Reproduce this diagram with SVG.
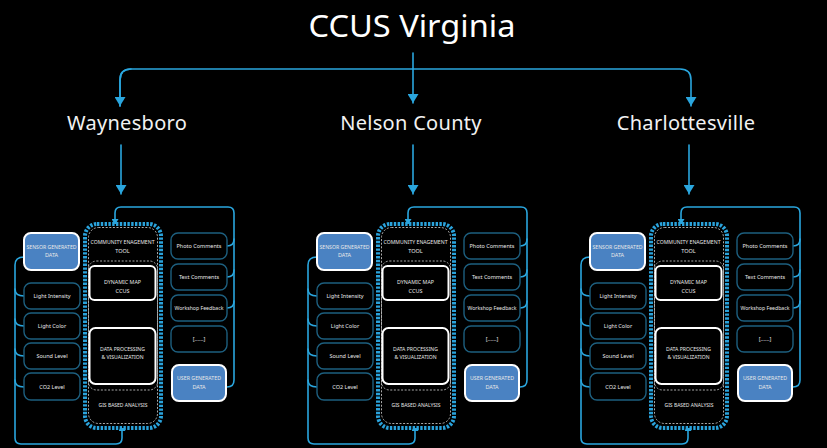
<svg xmlns="http://www.w3.org/2000/svg" width="827" height="448" viewBox="0 0 827 448">
  <defs>
    <style>
      .title { font-family: "Noto Sans", "Open Sans", sans-serif; fill: #ffffff; }
      .city { font-family: "Noto Sans", "Open Sans", sans-serif; font-size: 20px; fill: #f2f2f2; text-anchor: middle; letter-spacing: 0.3px; }
      .t { font-family: "Noto Sans", "Open Sans", sans-serif; font-size: 5.5px; fill: #e8e8e8; text-anchor: middle; }
      .link { fill: none; stroke: #2aa6de; stroke-width: 1.6; stroke-linecap: round; stroke-linejoin: round; }
      .item { fill: #000; stroke: #1d5f7f; stroke-width: 1.4; }
      .data { fill: #4a82c2; stroke: #ffffff; stroke-width: 2; }
      .tool { fill: #000; stroke: #2aa3dc; stroke-width: 4; stroke-dasharray: 2.4 1.4; }
      .dash { fill: none; stroke: #bdbdbd; stroke-width: 0.9; stroke-dasharray: 2 1.6; }
      .module { fill: #000; stroke: #ffffff; stroke-width: 2; }
      .flow { fill: none; stroke: #ffffff; stroke-width: 0.8; }
    </style>
    <marker id="headBig" viewBox="0 0 10 10" refX="10" refY="5" markerWidth="9" markerHeight="11" markerUnits="userSpaceOnUse" orient="auto" preserveAspectRatio="none">
      <path d="M0,0 L10,5 L0,10 z" fill="#2aa6de"/>
    </marker>
    <marker id="headSmall" viewBox="0 0 10 10" refX="10" refY="5" markerWidth="6" markerHeight="7" markerUnits="userSpaceOnUse" orient="auto" preserveAspectRatio="none">
      <path d="M0,0 L10,5 L0,10 z" fill="#2aa6de"/>
    </marker>
    <marker id="headWhite" viewBox="0 0 10 10" refX="10" refY="5" markerWidth="3" markerHeight="3.5" markerUnits="userSpaceOnUse" orient="auto" preserveAspectRatio="none">
      <path d="M0,0 L10,5 L0,10 z" fill="#ffffff"/>
    </marker>
  </defs>

  <rect width="827" height="448" fill="#000"/>

  <!-- top level -->
  <g id="node-ccus">
    <text class="title" x="412" y="37" font-size="31" text-anchor="middle" textLength="207" lengthAdjust="spacingAndGlyphs">CCUS Virginia</text>
  </g>
  <g id="node-waynesboro"><text class="city" x="127" y="130">Waynesboro</text></g>
  <g id="node-nelson"><text class="city" x="411" y="130">Nelson County</text></g>
  <g id="node-charlottesville"><text class="city" x="686" y="130">Charlottesville</text></g>

  <g id="connectors-top">
    <path class="link" d="M413,53 V103" marker-end="url(#headBig)"/>
    <path class="link" d="M120,106 V80 Q120,69 131,69 H680 Q691,69 691,80 V106" marker-end="url(#headBig)"/>
    <path class="link" d="M131,69 Q120,69 120,80 V106" marker-end="url(#headBig)"/>
    <path class="link" d="M121,145 V194" marker-end="url(#headBig)"/>
    <path class="link" d="M413,145 V194" marker-end="url(#headBig)"/>
    <path class="link" d="M689,145 V194" marker-end="url(#headBig)"/>
  </g>

  <!-- panel: Waynesboro -->
  <g id="panel-waynesboro">
    <g id="w-connectors">
      <path class="link" d="M227,387 Q234,387 234,380 V213 Q234,207 228,207 H121 Q115,207 115,213 V225" marker-end="url(#headSmall)"/>
      <path class="link" d="M227,246 Q234,246 234,239"/>
      <path class="link" d="M227,277 Q234,277 234,270"/>
      <path class="link" d="M227,308 Q234,308 234,301"/>
      <path class="link" d="M24,257 Q15,257 15,265 V438 Q15,444 21,444 H116 Q122,444 122,438 V425" marker-end="url(#headSmall)"/>
      <path class="link" d="M15,289 Q15,296 24,296"/>
      <path class="link" d="M15,319 Q15,326 24,326"/>
      <path class="link" d="M15,349 Q15,356 24,356"/>
      <path class="link" d="M15,380 Q15,387 24,387"/>
      <path class="flow" d="M119,327 V301" marker-end="url(#headWhite)"/>
      <path class="flow" d="M125,301 V327" marker-end="url(#headWhite)"/>
    </g>
    <g id="w-tool">
      <rect class="tool" x="85" y="224" width="76" height="204" rx="12"/>
      <rect class="dash" x="88.5" y="227.5" width="69" height="196" rx="10"/>
      <rect class="dash" x="88.5" y="261" width="69" height="129" rx="8"/>
      <text class="t" x="122.5" y="244" textLength="64" lengthAdjust="spacingAndGlyphs">COMMUNITY ENAGEMENT</text>
      <text class="t" x="122.5" y="253">TOOL</text>
      <text class="t" x="123" y="407" textLength="49" lengthAdjust="spacingAndGlyphs">GIS BASED ANALYSIS</text>
    </g>
    <g id="w-map">
      <rect class="module" x="89.5" y="266" width="66" height="34" rx="5"/>
      <text class="t" x="122.5" y="284" textLength="37" lengthAdjust="spacingAndGlyphs">DYNAMIC MAP</text>
      <text class="t" x="122.5" y="293">CCUS</text>
    </g>
    <g id="w-processing">
      <rect class="module" x="89.5" y="328" width="66" height="56" rx="6"/>
      <text class="t" x="122.5" y="351" textLength="45" lengthAdjust="spacingAndGlyphs">DATA PROCESSING</text>
      <text class="t" x="122.5" y="359" textLength="42" lengthAdjust="spacingAndGlyphs">&amp; VISUALIZATION</text>
    </g>
    <g id="w-sensor">
      <rect class="data" x="24" y="233" width="55" height="37" rx="7"/>
      <text class="t" x="51.5" y="249" textLength="50" lengthAdjust="spacingAndGlyphs">SENSOR GENERATED</text>
      <text class="t" x="51.5" y="257">DATA</text>
    </g>
    <g id="w-light-intensity"><rect class="item" x="24" y="283" width="56" height="26" rx="7"/><text class="t" x="52" y="298">Light Intensity</text></g>
    <g id="w-light-color"><rect class="item" x="24" y="313" width="56" height="26" rx="7"/><text class="t" x="52" y="328">Light Color</text></g>
    <g id="w-sound-level"><rect class="item" x="24" y="343" width="56" height="26" rx="7"/><text class="t" x="52" y="358">Sound Level</text></g>
    <g id="w-co2-level"><rect class="item" x="24" y="373" width="56" height="27" rx="7"/><text class="t" x="52" y="388.5">CO2 Level</text></g>
    <g id="w-photo"><rect class="item" x="171" y="233" width="56" height="26" rx="7"/><text class="t" x="199" y="248">Photo Comments</text></g>
    <g id="w-text"><rect class="item" x="171" y="264" width="56" height="26" rx="7"/><text class="t" x="199" y="279">Text Comments</text></g>
    <g id="w-workshop"><rect class="item" x="171" y="295" width="56" height="26" rx="7"/><text class="t" x="199" y="310" textLength="49" lengthAdjust="spacingAndGlyphs">Workshop Feedback</text></g>
    <g id="w-more"><rect class="item" x="171" y="326" width="56" height="26" rx="7"/><text class="t" x="199" y="341">[......]</text></g>
    <g id="w-user">
      <rect class="data" x="172" y="365" width="54" height="36" rx="7"/>
      <text class="t" x="199" y="380" textLength="44" lengthAdjust="spacingAndGlyphs">USER GENERATED</text>
      <text class="t" x="199" y="389">DATA</text>
    </g>
  </g>

  <!-- panel: Nelson County -->
  <g id="panel-nelson" transform="translate(293,0)">
    <g id="n-connectors">
      <path class="link" d="M227,387 Q234,387 234,380 V213 Q234,207 228,207 H121 Q115,207 115,213 V225" marker-end="url(#headSmall)"/>
      <path class="link" d="M227,246 Q234,246 234,239"/>
      <path class="link" d="M227,277 Q234,277 234,270"/>
      <path class="link" d="M227,308 Q234,308 234,301"/>
      <path class="link" d="M24,257 Q15,257 15,265 V438 Q15,444 21,444 H116 Q122,444 122,438 V425" marker-end="url(#headSmall)"/>
      <path class="link" d="M15,289 Q15,296 24,296"/>
      <path class="link" d="M15,319 Q15,326 24,326"/>
      <path class="link" d="M15,349 Q15,356 24,356"/>
      <path class="link" d="M15,380 Q15,387 24,387"/>
      <path class="flow" d="M119,327 V301" marker-end="url(#headWhite)"/>
      <path class="flow" d="M125,301 V327" marker-end="url(#headWhite)"/>
    </g>
    <g id="n-tool">
      <rect class="tool" x="85" y="224" width="76" height="204" rx="12"/>
      <rect class="dash" x="88.5" y="227.5" width="69" height="196" rx="10"/>
      <rect class="dash" x="88.5" y="261" width="69" height="129" rx="8"/>
      <text class="t" x="122.5" y="244" textLength="64" lengthAdjust="spacingAndGlyphs">COMMUNITY ENAGEMENT</text>
      <text class="t" x="122.5" y="253">TOOL</text>
      <text class="t" x="123" y="407" textLength="49" lengthAdjust="spacingAndGlyphs">GIS BASED ANALYSIS</text>
    </g>
    <g id="n-map">
      <rect class="module" x="89.5" y="266" width="66" height="34" rx="5"/>
      <text class="t" x="122.5" y="284" textLength="37" lengthAdjust="spacingAndGlyphs">DYNAMIC MAP</text>
      <text class="t" x="122.5" y="293">CCUS</text>
    </g>
    <g id="n-processing">
      <rect class="module" x="89.5" y="328" width="66" height="56" rx="6"/>
      <text class="t" x="122.5" y="351" textLength="45" lengthAdjust="spacingAndGlyphs">DATA PROCESSING</text>
      <text class="t" x="122.5" y="359" textLength="42" lengthAdjust="spacingAndGlyphs">&amp; VISUALIZATION</text>
    </g>
    <g id="n-sensor">
      <rect class="data" x="24" y="233" width="55" height="37" rx="7"/>
      <text class="t" x="51.5" y="249" textLength="50" lengthAdjust="spacingAndGlyphs">SENSOR GENERATED</text>
      <text class="t" x="51.5" y="257">DATA</text>
    </g>
    <g id="n-light-intensity"><rect class="item" x="24" y="283" width="56" height="26" rx="7"/><text class="t" x="52" y="298">Light Intensity</text></g>
    <g id="n-light-color"><rect class="item" x="24" y="313" width="56" height="26" rx="7"/><text class="t" x="52" y="328">Light Color</text></g>
    <g id="n-sound-level"><rect class="item" x="24" y="343" width="56" height="26" rx="7"/><text class="t" x="52" y="358">Sound Level</text></g>
    <g id="n-co2-level"><rect class="item" x="24" y="373" width="56" height="27" rx="7"/><text class="t" x="52" y="388.5">CO2 Level</text></g>
    <g id="n-photo"><rect class="item" x="171" y="233" width="56" height="26" rx="7"/><text class="t" x="199" y="248">Photo Comments</text></g>
    <g id="n-text"><rect class="item" x="171" y="264" width="56" height="26" rx="7"/><text class="t" x="199" y="279">Text Comments</text></g>
    <g id="n-workshop"><rect class="item" x="171" y="295" width="56" height="26" rx="7"/><text class="t" x="199" y="310" textLength="49" lengthAdjust="spacingAndGlyphs">Workshop Feedback</text></g>
    <g id="n-more"><rect class="item" x="171" y="326" width="56" height="26" rx="7"/><text class="t" x="199" y="341">[......]</text></g>
    <g id="n-user">
      <rect class="data" x="172" y="365" width="54" height="36" rx="7"/>
      <text class="t" x="199" y="380" textLength="44" lengthAdjust="spacingAndGlyphs">USER GENERATED</text>
      <text class="t" x="199" y="389">DATA</text>
    </g>
  </g>

  <!-- panel: Charlottesville -->
  <g id="panel-charlottesville" transform="translate(566,0)">
    <g id="c-connectors">
      <path class="link" d="M227,387 Q234,387 234,380 V213 Q234,207 228,207 H121 Q115,207 115,213 V225" marker-end="url(#headSmall)"/>
      <path class="link" d="M227,246 Q234,246 234,239"/>
      <path class="link" d="M227,277 Q234,277 234,270"/>
      <path class="link" d="M227,308 Q234,308 234,301"/>
      <path class="link" d="M24,257 Q15,257 15,265 V438 Q15,444 21,444 H116 Q122,444 122,438 V425" marker-end="url(#headSmall)"/>
      <path class="link" d="M15,289 Q15,296 24,296"/>
      <path class="link" d="M15,319 Q15,326 24,326"/>
      <path class="link" d="M15,349 Q15,356 24,356"/>
      <path class="link" d="M15,380 Q15,387 24,387"/>
      <path class="flow" d="M119,327 V301" marker-end="url(#headWhite)"/>
      <path class="flow" d="M125,301 V327" marker-end="url(#headWhite)"/>
    </g>
    <g id="c-tool">
      <rect class="tool" x="85" y="224" width="76" height="204" rx="12"/>
      <rect class="dash" x="88.5" y="227.5" width="69" height="196" rx="10"/>
      <rect class="dash" x="88.5" y="261" width="69" height="129" rx="8"/>
      <text class="t" x="122.5" y="244" textLength="64" lengthAdjust="spacingAndGlyphs">COMMUNITY ENAGEMENT</text>
      <text class="t" x="122.5" y="253">TOOL</text>
      <text class="t" x="123" y="407" textLength="49" lengthAdjust="spacingAndGlyphs">GIS BASED ANALYSIS</text>
    </g>
    <g id="c-map">
      <rect class="module" x="89.5" y="266" width="66" height="34" rx="5"/>
      <text class="t" x="122.5" y="284" textLength="37" lengthAdjust="spacingAndGlyphs">DYNAMIC MAP</text>
      <text class="t" x="122.5" y="293">CCUS</text>
    </g>
    <g id="c-processing">
      <rect class="module" x="89.5" y="328" width="66" height="56" rx="6"/>
      <text class="t" x="122.5" y="351" textLength="45" lengthAdjust="spacingAndGlyphs">DATA PROCESSING</text>
      <text class="t" x="122.5" y="359" textLength="42" lengthAdjust="spacingAndGlyphs">&amp; VISUALIZATION</text>
    </g>
    <g id="c-sensor">
      <rect class="data" x="24" y="233" width="55" height="37" rx="7"/>
      <text class="t" x="51.5" y="249" textLength="50" lengthAdjust="spacingAndGlyphs">SENSOR GENERATED</text>
      <text class="t" x="51.5" y="257">DATA</text>
    </g>
    <g id="c-light-intensity"><rect class="item" x="24" y="283" width="56" height="26" rx="7"/><text class="t" x="52" y="298">Light Intensity</text></g>
    <g id="c-light-color"><rect class="item" x="24" y="313" width="56" height="26" rx="7"/><text class="t" x="52" y="328">Light Color</text></g>
    <g id="c-sound-level"><rect class="item" x="24" y="343" width="56" height="26" rx="7"/><text class="t" x="52" y="358">Sound Level</text></g>
    <g id="c-co2-level"><rect class="item" x="24" y="373" width="56" height="27" rx="7"/><text class="t" x="52" y="388.5">CO2 Level</text></g>
    <g id="c-photo"><rect class="item" x="171" y="233" width="56" height="26" rx="7"/><text class="t" x="199" y="248">Photo Comments</text></g>
    <g id="c-text"><rect class="item" x="171" y="264" width="56" height="26" rx="7"/><text class="t" x="199" y="279">Text Comments</text></g>
    <g id="c-workshop"><rect class="item" x="171" y="295" width="56" height="26" rx="7"/><text class="t" x="199" y="310" textLength="49" lengthAdjust="spacingAndGlyphs">Workshop Feedback</text></g>
    <g id="c-more"><rect class="item" x="171" y="326" width="56" height="26" rx="7"/><text class="t" x="199" y="341">[......]</text></g>
    <g id="c-user">
      <rect class="data" x="172" y="365" width="54" height="36" rx="7"/>
      <text class="t" x="199" y="380" textLength="44" lengthAdjust="spacingAndGlyphs">USER GENERATED</text>
      <text class="t" x="199" y="389">DATA</text>
    </g>
  </g>
</svg>
